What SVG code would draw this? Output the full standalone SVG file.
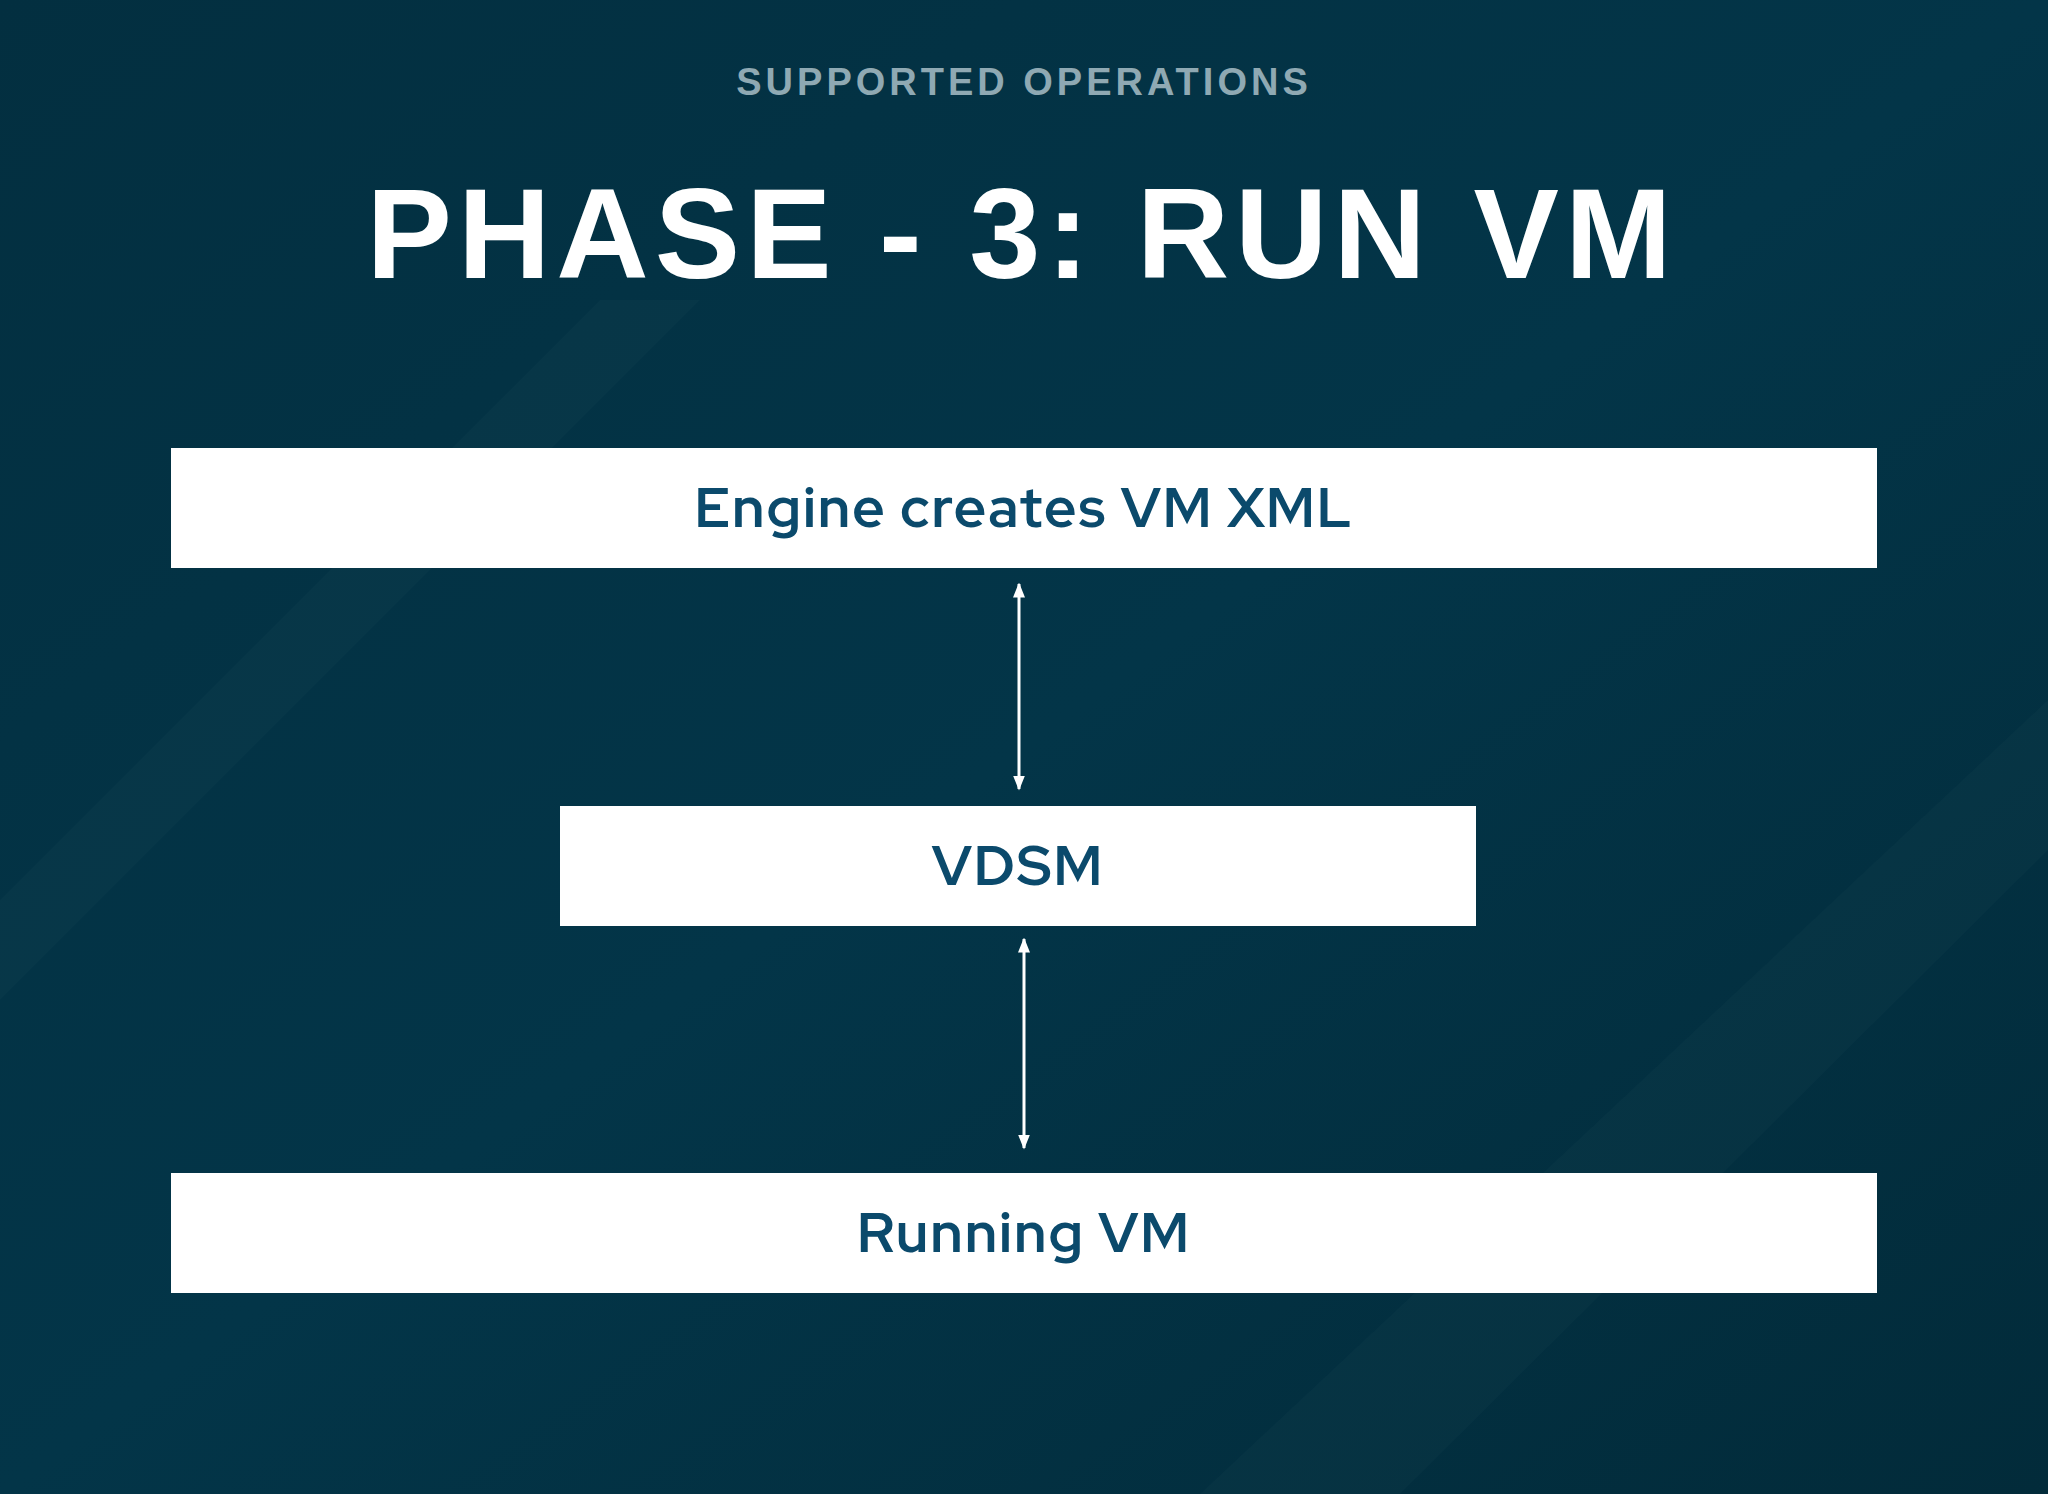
<svg xmlns="http://www.w3.org/2000/svg" width="2048" height="1494" viewBox="0 0 2048 1494">
<defs>
<linearGradient id="bg" x1="0" y1="0" x2="1" y2="1">
<stop offset="0" stop-color="#032f40"/>
<stop offset="0.5" stop-color="#033548"/>
<stop offset="1" stop-color="#022b3a"/>
</linearGradient>
<marker id="ah" viewBox="0 0 10 10" refX="9" refY="5" markerWidth="5" markerHeight="5" orient="auto-start-reverse">
<path d="M0,1 L10,5 L0,9 z" fill="#ffffff"/>
</marker>
<style>
.box{fill:#ffffff}
.lbl{font-family:"Red Hat Display","Liberation Sans",sans-serif;font-weight:bold;font-size:56px;fill:#0b4a6c;text-anchor:middle;letter-spacing:2px}
.conn{stroke:#ffffff;stroke-width:3;fill:none;marker-start:url(#ah);marker-end:url(#ah)}
</style>
</defs>
<rect width="2048" height="1494" fill="url(#bg)"/>
<polygon points="0,900 600,300 700,300 0,1000" fill="#ffffff" opacity="0.02"/>
<polygon points="1200,1494 2048,700 2048,850 1400,1494" fill="#ffffff" opacity="0.02"/>
<text x="1024" y="95" font-family="Liberation Sans,sans-serif" font-weight="bold" font-size="38" fill="#8fa9b3" text-anchor="middle" letter-spacing="4">SUPPORTED OPERATIONS</text>
<text x="1022" y="278" font-family="Liberation Sans,sans-serif" font-weight="bold" font-size="128" fill="#ffffff" text-anchor="middle" letter-spacing="6">PHASE - 3: RUN VM</text>
<g id="connectors">
<line class="conn" x1="1019" y1="584" x2="1019" y2="789"/>
<line class="conn" x1="1024" y1="939" x2="1024" y2="1148"/>
</g>
<g id="engine"><rect class="box" x="171" y="448" width="1706" height="120"/><text class="lbl" x="1024" y="527">Engine creates VM XML</text></g>
<g id="vdsm"><rect class="box" x="560" y="806" width="916" height="120"/><text class="lbl" x="1018" y="885">VDSM</text></g>
<g id="running"><rect class="box" x="171" y="1173" width="1706" height="120"/><text class="lbl" x="1024" y="1252">Running VM</text></g>
</svg>
